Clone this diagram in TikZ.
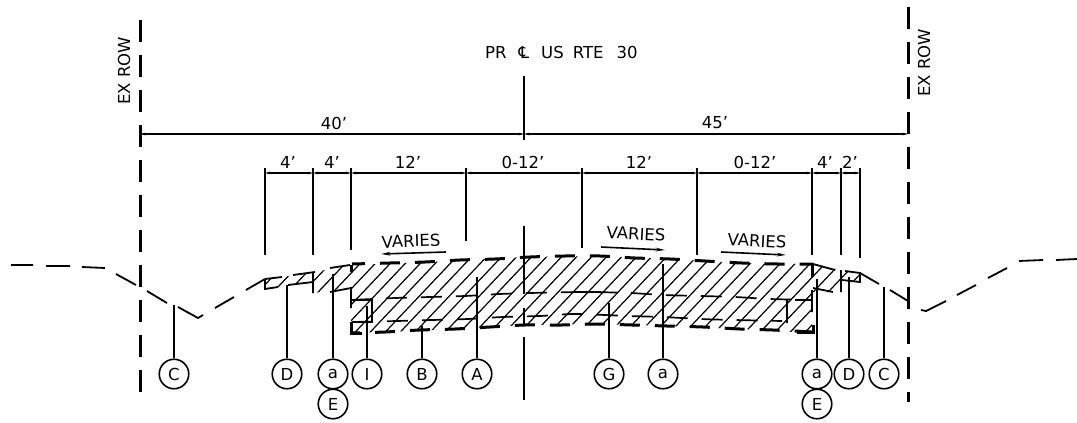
\documentclass[tikz,border=0pt]{standalone}
\usepackage{fontspec}
\setmainfont{DejaVu Sans}
\usetikzlibrary{arrows.meta}
\tikzset{
  tagcirc/.style={draw,circle,line width=1.6pt,minimum size=29.5pt,inner sep=0pt,font=\fontsize{16.5}{16.5}\selectfont},
  leader/.style={line width=1.6pt},
  dimline/.style={line width=1.6pt,{Stealth[length=5pt,width=2.5pt]}-{Stealth[length=5pt,width=2.5pt]}},
  extline/.style={line width=1.1pt},
  dimtext/.style={font=\fontsize{16.5}{16.5}\selectfont,inner sep=0pt},
  notetext/.style={font=\fontsize{16.5}{16.5}\selectfont,inner sep=0pt},
  rowline/.style={line width=3pt,dash pattern=on 21.5pt off 13.5pt},
  thickdash/.style={line width=3pt,dash pattern=on 20pt off 15pt},
  thindash/.style={line width=1.7pt,dash pattern=on 21pt off 14pt},
  edgeline/.style={line width=1.8pt}
}
\begin{document}
\begin{tikzpicture}[x=1pt,y=-1pt]
\useasboundingbox (0,0) rectangle (1077,423);

% the hatching
\begin{scope}
\clip (265,279)--(282,277)--(315,272)--(351,265)--(430,262)--(525,257)--(600,256)--(670,259)--(742,263)--(812,264)
  --(841,270)--(860,273)--(860,282)--(842,280)--(841,292)--(812,292)--(812,333)--(740,329)--(667,326)--(597,324)
  --(525,325)--(455,329)--(385,332)--(351,333)--(351,288)--(313,293)--(313,282)--(265,289)--cycle;
\foreach \hx in {500,515,...,1190}
  \draw[line width=1.2pt] ({\hx-232},250)--({\hx-322},345);
\end{scope}

% the pavement courses
\draw[thickdash,dash phase=7pt] plot[smooth] coordinates {(352,264)(390,263)(425,262)(460,260)(495,259)(530,257)(565,256)(600,256)(635,258)(670,259)(705,261)(742,263)(778,264)(813,264)};
\draw[thindash] plot[smooth] coordinates {(351,300)(395,298)(430,297)(465,296)(500,294)(530,293)(583,292)(630,293)(663,295)(700,296)(735,297)(770,299)(812,300)};
\draw[thindash] plot[smooth] coordinates {(352,322)(397,321)(432,320)(468,319)(503,317)(540,316)(575,314)(628,316)(663,317)(700,319)(735,320)(782,321)};
\draw[thickdash,dash phase=11pt] plot[smooth] coordinates {(351,333)(385,332)(420,330)(455,329)(490,327)(525,325)(562,325)(597,324)(632,325)(667,326)(703,327)(740,329)(773,330)(813,332)};
\draw[thindash] (580,292)--(605,292);

% the ground
\begin{scope}[edgeline]
\draw (11,265)--(33,265) (46,266)--(70,266) (82,267)--(105,268) (116,274)--(136,285) (147,291)--(167,303)
  (178,307)--(198,318)--(203,315) (215,308)--(234,297) (246,290)--(265,279);
\draw (860,273)--(879,284) (890,290)--(908,301) (921,310)--(926,311)--(946,301) (957,295)--(976,285) (988,278)--(1007,268)
  (1019,261)--(1043,260) (1056,260)--(1077,259);
\end{scope}

% the left shoulder
\begin{scope}[edgeline]
\draw (265,279)--(282,277) (265,279)--(265,289)--(278,287);
\draw (293,275)--(315,272) (288,285)--(313,282) (313,272)--(313,293);
\draw (330,268)--(350,265) (330,292)--(351,288)--(351,308) (351,300)--(372,300)--(372,322)--(355,322);
\draw[line width=3pt] (351,265)--(351,272) (351,322)--(351,333)--(362,333);
\end{scope}

% the right shoulder
\begin{scope}[edgeline]
\draw (813,264)--(835,270) (813,288)--(833,292) (812,290)--(812,312) (795,300)--(812,300) (787,300)--(787,323);
\draw (841,270)--(841,292) (842,280)--(860,282)--(860,273)--(845,271);
\draw[line width=3pt] (812,265)--(812,277) (797,332)--(813,332)--(813,325);
\end{scope}

% the row lines and the centre line
\draw[rowline] (140,20)--(140,393);
\draw[rowline] (908,7)--(908,402);
\begin{scope}[line width=2.4pt]
\draw (524,76)--(524,140);
\draw (524,226)--(524,294);
\draw (524,308)--(524,325);
\draw (524,337)--(524,400);
\end{scope}

% labels at the top
\node[notetext,anchor=west] (title) at (485,52) {PR\hspace{12pt}℄\hspace{12pt}US\hspace{9pt}RTE\hspace{13pt}30};
\node[notetext,rotate=90] (rowleft) at (124,71) {EX ROW};
\node[notetext,rotate=90] (rowright) at (924,63) {EX ROW};

% the long dimensions
\coordinate (rowl) at (140,134);
\coordinate (cen) at (524,134);
\coordinate (rowr) at (908,134);
\draw[dimline] (rowl)--(cen);
\draw[dimline] (cen)--(rowr);
\node[dimtext] (dimforty) at (334,123) {40'};
\node[dimtext] (dimfortyfive) at (715,123) {45'};

% the short dimensions
\foreach \i/\ex/\ey in {1/265/255,2/313/255,3/351/250,4/466/241,5/582/248,6/697/255,7/812/255,8/841/255,9/860/258}{
  \coordinate (dim\i) at (\ex,173);
  \coordinate (ext\i) at (\ex,\ey);
  \coordinate (top\i) at (\ex,168);
  \draw[extline] (top\i)--(ext\i);
}
\foreach \i/\j/\lx/\txt in {1/2/288/4',2/3/332/4',3/4/408/12',4/5/523/0-12',5/6/639/12',6/7/755/0-12',7/8/825/4',8/9/850/2'}{
  \draw[dimline] (dim\i)--(dim\j);
  \node[dimtext] (lab\i) at (\lx,162) {\txt};
}

% the slope notes
\node[notetext,rotate=2] (varone) at (411,241) {VARIES};
\node[notetext,rotate=-3] (vartwo) at (636,234) {VARIES};
\node[notetext,rotate=-3] (varthree) at (757,241) {VARIES};
\coordinate (vo1) at (446,252);
\coordinate (vo2) at (381,254);
\coordinate (vt1) at (601,247);
\coordinate (vt2) at (665,250);
\coordinate (vh1) at (721,252);
\coordinate (vh2) at (786,255);
\begin{scope}[line width=1.6pt,-{Stealth[length=9pt,width=3.5pt]}]
\draw (vo1)--(vo2);
\draw (vt1)--(vt2);
\draw (vh1)--(vh2);
\end{scope}

% the callouts
\foreach \nm/\txt/\tx/\tipy in {c/C/174/305,d/D/287/285,a/a/333/274,i/I/367/306,b/B/422/326,f/A/477/277,g/G/609/303,h/a/663/264,j/a/817/279,k/D/849/277,l/C/884/287}{
  \node[tagcirc] (tag\nm) at (\tx,374) {\txt};
  \coordinate (tip\nm) at (\tx,\tipy);
  \draw[leader] (tag\nm)--(tip\nm);
}
\node[tagcirc] (tage) at (333,404) {E};
\node[tagcirc] (tagm) at (817,404) {E};
\end{tikzpicture}
\end{document}
